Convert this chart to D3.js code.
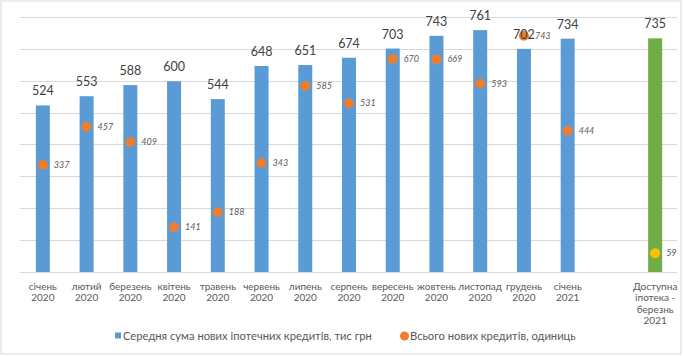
<!DOCTYPE html>
<html><head><meta charset="utf-8">
<script src="https://cdn.jsdelivr.net/npm/d3@7"></script>
<style>body{margin:0;background:#fff}svg{display:block;font-family:Lato,"Open Sans",sans-serif}</style>
</head><body><svg id="c" width="684" height="356"></svg>
<script>
const categories = ["січень|2020","лютий|2020","березень|2020","квітень|2020","травень|2020","червень|2020","липень|2020","серпень|2020","вересень|2020","жовтень|2020","листопад|2020","грудень|2020","січень|2021"," ","Доступна|іпотека -|березнь|2021"];
const avgAmount = [524,553,588,600,544,648,651,674,703,743,761,702,734,null,735];
const totalLoans = [337,457,409,141,188,343,585,531,670,669,593,743,444,null,59];
const yTicks = [0,100,200,300,400,500,600,700,800];
const seriesNames = ["Середня сума нових іпотечних кредитів, тис грн","Всього нових кредитів, одиниць"];
const barColor = "#5B9BD5", specialBarColor = "#70AD47", dotColor = "#ED7D31", specialDotColor = "#FFC000";

const svg = d3.select("#c");
svg.append("rect").attr("x",1).attr("y",1).attr("width",680).attr("height",353).attr("fill","#fff").attr("stroke","#d9d9d9");

const x = d3.scaleBand().domain(categories).range([21,677]).paddingInner(0.68).paddingOuter(0.34);
const y = d3.scaleLinear().domain([0,800]).range([272,17.7]);

svg.append("g").selectAll("line").data(yTicks).join("line")
  .attr("x1",20).attr("x2",677).attr("y1",d=>y(d)).attr("y2",d=>y(d))
  .attr("stroke","#d9d9d9").attr("stroke-width",1).attr("shape-rendering","crispEdges");

const data = categories.map((c,i)=>({c,i,v:avgAmount[i],n:totalLoans[i]})).filter(d=>d.v!=null);
const last = categories.length-1;

svg.append("g").selectAll("rect").data(data).join("rect")
  .attr("x",d=>x(d.c)).attr("width",x.bandwidth())
  .attr("y",d=>y(d.v)).attr("height",d=>y(0)-y(d.v))
  .attr("fill",d=>d.i===last?specialBarColor:barColor);

svg.append("g").selectAll("circle").data(data).join("circle")
  .attr("cx",d=>x(d.c)+x.bandwidth()/2).attr("cy",d=>y(d.n)).attr("r",5)
  .attr("fill",d=>d.i===last?specialDotColor:dotColor);

svg.append("g").selectAll("text").data(data).join("text")
  .attr("x",d=>x(d.c)+x.bandwidth()/2).attr("y",d=>y(d.v)-10)
  .attr("text-anchor","middle").attr("font-size",12.5).attr("fill","#404040")
  .text(d=>d.v);

svg.append("g").selectAll("text").data(data).join("text")
  .attr("x",d=>x(d.c)+x.bandwidth()/2+11).attr("y",d=>y(d.n)+3)
  .attr("font-size",9).attr("font-style","italic").attr("fill","#595959")
  .text(d=>d.n);

const xl = svg.append("g").selectAll("text").data(categories).join("text")
  .attr("text-anchor","middle").attr("font-size",10).attr("fill","#595959")
  .attr("x",d=>x(d)+x.bandwidth()/2).attr("y",290);
xl.each(function(d){
  const t=d3.select(this);
  d.split("|").forEach((s,k)=>t.append("tspan").attr("x",x(d)+x.bandwidth()/2).attr("dy",k?11.4:0).text(s.trim()));
});

const lg = svg.append("g").attr("font-size",11.2).attr("fill","#595959");
lg.append("rect").attr("x",115).attr("y",332.5).attr("width",6).attr("height",6).attr("fill",barColor);
lg.append("text").attr("x",123).attr("y",340).text(seriesNames[0]);
lg.append("circle").attr("cx",404.5).attr("cy",336).attr("r",4.5).attr("fill",dotColor);
lg.append("text").attr("x",410).attr("y",340).text(seriesNames[1]);
</script></body></html>
